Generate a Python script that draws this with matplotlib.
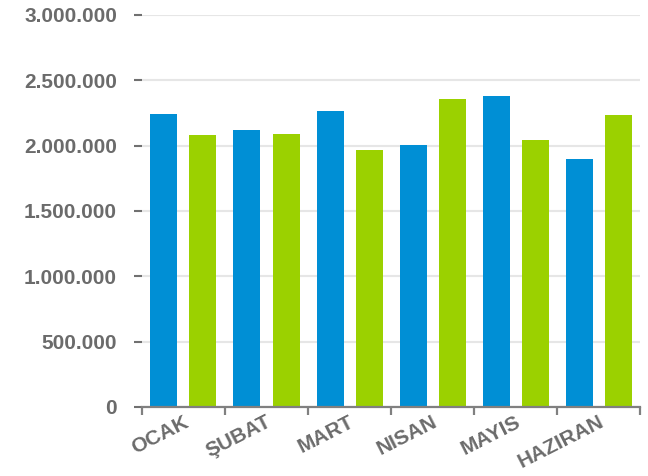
import numpy as np
import matplotlib.pyplot as plt
from matplotlib.ticker import FuncFormatter, FixedLocator
import matplotlib.transforms as mtransforms

months = ["OCAK", "ŞUBAT", "MART", "NISAN", "MAYIS", "HAZIRAN"]
series_blue = [2245000, 2122000, 2265000, 2005000, 2380000, 1898000]
series_green = [2079000, 2092000, 1967000, 2355000, 2041000, 2235000]

plt.rcParams['font.family'] = ['Liberation Sans', 'DejaVu Sans']

fig = plt.figure(figsize=(6.48, 4.76), dpi=100)
ax = fig.add_axes([0.219, 0.145, 0.769, 0.8235])

x = np.arange(len(months))
w = 0.325
ax.bar(x - 0.235, series_blue, width=w, color="#008fd5", zorder=2)
ax.bar(x + 0.235, series_green, width=w, color="#9bd100", zorder=2)

ax.set_xlim(-0.5, len(months) - 0.5)
ax.set_ylim(0, 3000000)
ax.set_yticks(np.arange(0, 3000001, 500000))
ax.yaxis.set_major_formatter(FuncFormatter(lambda v, p: f"{int(v):,}".replace(",", ".")))

# gridlines
ax.grid(axis='y', color='#e6e6e6', linewidth=1.5, zorder=0)
ax.set_axisbelow(True)

for s in ['top', 'right', 'left']:
    ax.spines[s].set_visible(False)
ax.spines['bottom'].set_color('#808080')
ax.spines['bottom'].set_linewidth(1.6)
ax.spines['bottom'].set_zorder(3)

ax.tick_params(axis='y', length=6, width=1.5, color='#707070', pad=12,
               labelsize=15, labelcolor='#6b6b6b')
for lbl in ax.get_yticklabels():
    lbl.set_fontweight('bold')

# x ticks: labels at centres, tick marks at boundaries
ax.set_xticks(x)
ax.set_xticklabels(months, rotation=27, ha='right', va='top',
                   fontsize=15, fontweight='bold', color='#6b6b6b')
ax.tick_params(axis='x', which='major', length=0, pad=4)
ax.xaxis.set_minor_locator(FixedLocator(np.arange(-0.5, len(months), 1)))
ax.tick_params(axis='x', which='minor', length=6, width=1.6, color='#808080')
offset = mtransforms.ScaledTranslation(8 / 100, 0, fig.dpi_scale_trans)
for lbl in ax.get_xticklabels():
    lbl.set_transform(lbl.get_transform() + offset)

plt.savefig('out.png', dpi=100)
